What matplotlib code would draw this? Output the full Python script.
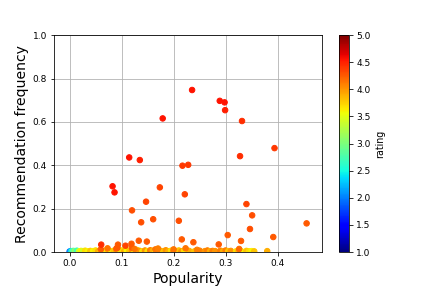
import matplotlib
matplotlib.use("Agg")
import matplotlib.pyplot as plt

# items lifted off the floor: popularity, recommendation frequency, rating
upper_pop = [0.2355, 0.2887, 0.298, 0.299, 0.3315, 0.179, 0.394, 0.1146, 0.135,
             0.3277, 0.217, 0.228, 0.0826, 0.0864, 0.1735, 0.2215, 0.147, 0.340,
             0.120, 0.351, 0.1607, 0.1376, 0.210, 0.4557, 0.3468, 0.304, 0.3916,
             0.2157, 0.133, 0.1485, 0.3296, 0.238, 0.0608, 0.2867, 0.093, 0.1075,
             0.119, 0.092, 0.326, 0.223, 0.073]
upper_freq = [0.747, 0.697, 0.690, 0.654, 0.604, 0.616, 0.479, 0.436, 0.424,
              0.442, 0.398, 0.402, 0.303, 0.275, 0.298, 0.266, 0.232, 0.221,
              0.192, 0.169, 0.151, 0.137, 0.144, 0.132, 0.106, 0.078, 0.069,
              0.058, 0.052, 0.048, 0.051, 0.045, 0.034, 0.035, 0.034, 0.029,
              0.038, 0.020, 0.014, 0.017, 0.017]
upper_rating = [4.55, 4.55, 4.55, 4.5, 4.45, 4.55, 4.4, 4.55, 4.5,
                4.45, 4.4, 4.4, 4.55, 4.55, 4.35, 4.35, 4.35, 4.35,
                4.3, 4.3, 4.3, 4.3, 4.3, 4.25, 4.3, 4.25, 4.25,
                4.25, 4.25, 4.25, 4.25, 4.25, 4.45, 4.25, 4.25, 4.35,
                4.25, 4.25, 4.2, 4.15, 4.15]

# the crowded strip along the bottom
floor_pop = [0.000, 0.002, 0.004, 0.007, 0.010, 0.014, 0.018, 0.022, 0.026, 0.030,
             0.035, 0.040, 0.045, 0.050, 0.055, 0.060, 0.065, 0.070, 0.075, 0.080,
             0.085, 0.090, 0.095, 0.100, 0.105, 0.110, 0.115, 0.120, 0.125, 0.130,
             0.135, 0.140, 0.145, 0.150, 0.155, 0.160, 0.165, 0.170, 0.175, 0.180,
             0.185, 0.190, 0.195, 0.200, 0.205, 0.210, 0.215, 0.220, 0.225, 0.230,
             0.240, 0.250, 0.260, 0.265, 0.270, 0.275, 0.280, 0.290, 0.295, 0.300,
             0.305, 0.310, 0.320, 0.325, 0.330, 0.340, 0.345, 0.350, 0.355, 0.380,
             0.060, 0.090, 0.120, 0.125, 0.165, 0.170, 0.200, 0.245]
floor_freq = [0.002, 0.004, 0.003, 0.005, 0.004, 0.006, 0.003, 0.005, 0.004, 0.006,
              0.003, 0.005, 0.004, 0.007, 0.003, 0.006, 0.004, 0.008, 0.005, 0.003,
              0.006, 0.009, 0.004, 0.007, 0.003, 0.008, 0.005, 0.006, 0.004, 0.009,
              0.005, 0.003, 0.007, 0.004, 0.008, 0.006, 0.003, 0.007, 0.005, 0.004,
              0.008, 0.003, 0.006, 0.005, 0.004, 0.007, 0.003, 0.006, 0.004, 0.005,
              0.003, 0.006, 0.004, 0.007, 0.003, 0.005, 0.004, 0.006, 0.003, 0.007,
              0.004, 0.005, 0.003, 0.006, 0.004, 0.005, 0.003, 0.004, 0.003, 0.004,
              0.012, 0.016, 0.020, 0.014, 0.012, 0.016, 0.012, 0.010]
floor_rating = [1.9, 2.2, 2.6, 2.8, 3.1, 2.7, 3.4, 3.6, 3.4, 3.7,
                3.6, 3.8, 3.6, 3.7, 3.9, 3.6, 3.8, 3.7, 3.9, 3.6,
                3.8, 4.0, 3.5, 3.7, 3.9, 3.6, 3.8, 4.0, 3.6, 3.8,
                4.0, 3.7, 4.0, 3.7, 4.1, 3.9, 3.7, 4.0, 4.1, 3.8,
                4.0, 3.9, 3.7, 4.1, 3.9, 3.8, 4.0, 3.7, 3.6, 3.9,
                3.8, 4.1, 4.0, 4.1, 3.9, 4.1, 4.0, 4.1, 3.9, 4.1,
                3.8, 4.0, 3.7, 3.9, 3.6, 3.8, 3.7, 3.6, 3.8, 3.9,
                4.25, 4.25, 4.25, 4.15, 4.15, 4.1, 4.15, 4.1]

fig, ax = plt.subplots(figsize=(6, 4), dpi=72)
fig.subplots_adjust(left=0.125, right=0.9, bottom=0.125, top=0.878)
ax.set_axisbelow(True)
ax.grid(True)

ax.scatter(floor_pop, floor_freq, c=floor_rating, cmap="jet", vmin=1, vmax=5, s=30)
sc = ax.scatter(upper_pop, upper_freq, c=upper_rating, cmap="jet", vmin=1, vmax=5, s=30)

ax.set_xlim(-0.03, 0.485)
ax.set_ylim(0, 1)
ax.set_xlabel("Popularity", fontsize=14)
ax.set_ylabel("Recommendation frequency", fontsize=14)
ax.tick_params(labelsize=9)

cbar = fig.colorbar(sc, ax=ax)
cbar.set_label("rating", fontsize=9.5)
cbar.ax.tick_params(labelsize=9)

fig.savefig("out.png")
